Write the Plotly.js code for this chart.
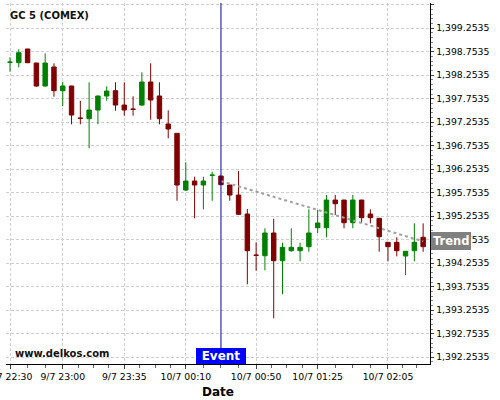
<!DOCTYPE html>
<html>
<head>
<meta charset="utf-8">
<script src="https://cdn.plot.ly/plotly-3.0.1.min.js"></script>
<style>
html,body{margin:0;padding:0;background:#fff;}
#chart{width:500px;height:400px;}
</style>
</head>
<body>
<div id="chart"></div>
<script>
// ---- data ----
var times = [
 '2015-07-09 22:30','2015-07-09 22:35','2015-07-09 22:40','2015-07-09 22:45','2015-07-09 22:50','2015-07-09 22:55',
 '2015-07-09 23:00','2015-07-09 23:05','2015-07-09 23:10','2015-07-09 23:15','2015-07-09 23:20','2015-07-09 23:25',
 '2015-07-09 23:30','2015-07-09 23:35','2015-07-09 23:40','2015-07-09 23:45','2015-07-09 23:50','2015-07-09 23:55',
 '2015-07-10 00:00','2015-07-10 00:05','2015-07-10 00:10','2015-07-10 00:15','2015-07-10 00:20','2015-07-10 00:25',
 '2015-07-10 00:30','2015-07-10 00:35','2015-07-10 00:40','2015-07-10 00:45','2015-07-10 00:50','2015-07-10 00:55',
 '2015-07-10 01:00','2015-07-10 01:05','2015-07-10 01:10','2015-07-10 01:15','2015-07-10 01:20','2015-07-10 01:25',
 '2015-07-10 01:30','2015-07-10 01:35','2015-07-10 01:40','2015-07-10 01:45','2015-07-10 01:50','2015-07-10 01:55',
 '2015-07-10 02:00','2015-07-10 02:05','2015-07-10 02:10','2015-07-10 02:15','2015-07-10 02:20','2015-07-10 02:25'
];
var openP = [
 1398.528,1398.520,1398.811,1398.513,1398.024,1398.428,
 1397.924,1398.024,1397.341,1397.328,1397.513,1397.811,
 1397.924,1397.619,1397.532,1397.619,1398.109,1397.811,
 1397.215,1397.017,1395.811,1396.002,1395.917,1396.124,
 1396.109,1395.917,1395.704,1395.300,1394.426,1394.413,
 1394.896,1394.307,1394.519,1394.519,1394.605,1395.009,
 1395.009,1395.598,1395.598,1395.115,1395.598,1395.300,
 1395.209,1394.698,1394.698,1394.407,1394.519,1394.805
];
var highP = [
 1398.635,1398.805,1398.815,1398.520,1398.719,1398.507,
 1398.115,1398.030,1397.711,1398.102,1397.820,1398.017,
 1398.102,1398.102,1397.805,1398.315,1398.507,1398.102,
 1397.507,1397.020,1396.400,1396.094,1396.094,1396.200,
 1396.110,1395.920,1396.215,1395.407,1394.698,1394.996,
 1395.200,1394.690,1394.996,1394.690,1395.400,1395.385,
 1395.705,1395.705,1395.600,1395.705,1395.600,1395.400,
 1395.210,1394.700,1394.805,1394.510,1395.102,1395.102
];
var lowP = [
 1398.328,1398.422,1398.510,1398.009,1398.009,1397.796,
 1397.598,1397.209,1397.209,1396.698,1397.209,1397.711,
 1397.498,1397.392,1397.392,1397.598,1397.307,1397.209,
 1396.911,1395.583,1395.790,1395.209,1395.400,1395.583,
 1395.920,1395.583,1395.279,1393.805,1394.094,1394.102,
 1393.081,1393.592,1394.498,1394.294,1394.498,1394.896,
 1394.805,1395.279,1394.996,1394.996,1395.115,1395.102,
 1394.498,1394.294,1394.400,1394.002,1394.294,1394.498
];
var closeP = [
 1398.532,1398.732,1398.520,1398.024,1398.513,1397.924,
 1398.024,1397.407,1397.337,1397.513,1397.811,1397.917,
 1397.619,1397.513,1397.528,1398.109,1397.726,1397.328,
 1397.109,1395.917,1396.002,1395.917,1396.002,1396.128,
 1395.924,1395.704,1395.294,1394.519,1394.422,1394.896,
 1394.307,1394.592,1394.592,1394.592,1394.896,1395.109,
 1395.598,1395.519,1395.115,1395.598,1395.222,1395.222,
 1394.817,1394.605,1394.519,1394.507,1394.698,1394.605
];
var xTickVals = ['2015-07-09 22:30','2015-07-09 23:00','2015-07-09 23:35','2015-07-10 00:10','2015-07-10 00:50','2015-07-10 01:25','2015-07-10 02:05'];
var xTickText = ['9/7 22:30','9/7 23:00','9/7 23:35','10/7 00:10','10/7 00:50','10/7 01:25','10/7 02:05'];
var eventTime = '2015-07-10 00:30';
var trendX = ['2015-07-10 00:30','2015-07-10 02:25'];
var trendY = [1396.00, 1394.72];
var trendLabelY = 1394.72;
var chartTitle = 'GC 5 (COMEX)';
var watermark = 'www.delkos.com';

// minor x ticks: subdivide each major interval
function toMs(s){ var p=s.split(/[- :]/); return Date.UTC(+p[0],+p[1]-1,+p[2],+p[3],+p[4],+(p[5]||0)); }
function toStr(ms){ return new Date(ms).toISOString().slice(0,19).replace('T',' '); }
var minorVals = [];
for (var i=0;i<xTickVals.length-1;i++){
  var a=toMs(xTickVals[i]), b=toMs(xTickVals[i+1]);
  var n = (i===0)?3:4;
  for (var k=1;k<n;k++) minorVals.push(toStr(a+(b-a)*k/n));
}
(function(){ var last=toMs(xTickVals[xTickVals.length-1]); minorVals.push(toStr(last+8*60000)); minorVals.push(toStr(last+16*60000)); })();

var F = 'DejaVu Sans, Verdana, sans-serif';

var candle = {
  type:'candlestick', x:times, open:openP, high:highP, low:lowP, close:closeP,
  increasing:{line:{color:'#008000',width:1}, fillcolor:'#008000'},
  decreasing:{line:{color:'#800000',width:1}, fillcolor:'#800000'},
  whiskerwidth:0, hoverinfo:'skip', showlegend:false
};
var trend = {
  type:'scatter', mode:'lines', x:trendX, y:trendY,
  line:{color:'#a0a0a0', width:2, dash:'dot'}, hoverinfo:'skip', showlegend:false
};

var layout = {
  width:500, height:400,
  margin:{l:6, r:70, t:3, b:36, pad:0},
  paper_bgcolor:'#fff', plot_bgcolor:'#fff',
  font:{family:F, size:9.3, color:'#000'},
  showlegend:false,
  boxgap:0.28,
  xaxis:{
    type:'date',
    range:['2015-07-09 22:27:43','2015-07-10 02:28:54'],
    rangeslider:{visible:false},
    tickmode:'array', tickvals:xTickVals, ticktext:xTickText,
    ticklabeloverflow:'allow',
    ticks:'outside', ticklen:4, tickcolor:'#444', tickwidth:1,
    tickfont:{family:F, size:9.3, color:'#000'},
    showline:true, linecolor:'#000', linewidth:1.3,
    showgrid:true, gridcolor:'#cfcfcf', gridwidth:1, griddash:'3px,2px',
    zeroline:false,
    minor:{tickmode:'array', tickvals:minorVals, ticks:'outside', ticklen:3, tickcolor:'#666', showgrid:false},
    title:{text:'Date', font:{family:F, size:12, color:'#000', weight:'bold'}, standoff:6},
    automargin:false, fixedrange:true
  },
  yaxis:{
    side:'right',
    range:[1392.109, 1399.790],
    tickmode:'linear', tick0:1392.2535, dtick:0.5, tickformat:',.4f',
    ticks:'outside', ticklen:3, tickcolor:'#444', tickwidth:1,
    tickfont:{family:F, size:9.3, color:'#000'},
    showline:true, linecolor:'#000', linewidth:1.3,
    showgrid:true, gridcolor:'#cfcfcf', gridwidth:1, griddash:'3px,2px',
    zeroline:false,
    minor:{dtick:0.1, tick0:1392.2535, ticks:'outside', ticklen:2, tickcolor:'#888', showgrid:false},
    automargin:false, fixedrange:true
  },
  shapes:[
    {type:'line', xref:'x', yref:'paper', x0:eventTime, x1:eventTime, y0:0, y1:1,
     line:{color:'#0000aa', width:1}}
  ],
  annotations:[
    {text:chartTitle, xref:'paper', yref:'paper', x:0, y:1, xanchor:'left', yanchor:'middle',
     xshift:2, yshift:-12, showarrow:false, font:{family:F, size:10, color:'#111', weight:'bold'}},
    {text:watermark, xref:'paper', yref:'paper', x:0, y:0, xanchor:'left', yanchor:'middle',
     xshift:7, yshift:10.5, showarrow:false, font:{family:F, size:10, color:'#111', weight:'bold'}},
    {text:'Event', xref:'x', yref:'paper', x:eventTime, y:0, xanchor:'center', yanchor:'bottom',
     showarrow:false, bgcolor:'#0000ff', borderpad:1, borderwidth:0, width:48, height:14,
     font:{family:F, size:12, color:'#fff', weight:'bold'}},
    {text:'Trend', xref:'paper', yref:'y', x:1, y:trendLabelY, xanchor:'left', yanchor:'middle',
     xshift:1, showarrow:false, bgcolor:'#808080', borderpad:2, borderwidth:0,
     font:{family:F, size:11.5, color:'#fff', weight:'bold'}}
  ]
};

Plotly.newPlot('chart', [candle, trend], layout, {staticPlot:true, displayModeBar:false});
</script>
</body>
</html>
